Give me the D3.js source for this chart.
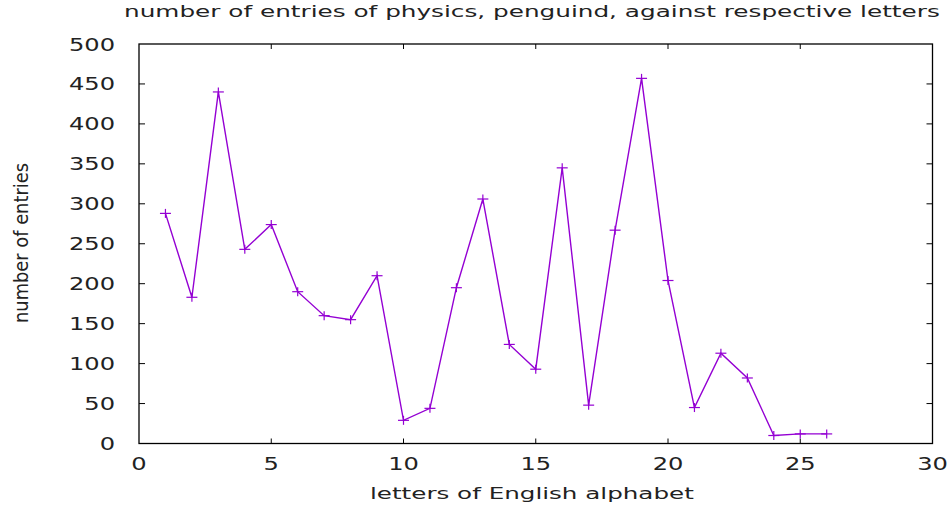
<!DOCTYPE html>
<html><head><meta charset="utf-8">
<script src="https://cdn.jsdelivr.net/npm/d3@7"></script>
<style>html,body{margin:0;padding:0;background:#fff;}svg{display:block;}</style>
</head><body>
<svg id="c" width="948" height="510"></svg>
<script>
const letterIndex = [1,2,3,4,5,6,7,8,9,10,11,12,13,14,15,16,17,18,19,20,21,22,23,24,25,26];
const entries = [288,183,440,243,274,190,160,155,210,29,44,195,306,124,93,345,48,267,457,204,45,113,82,10,12,12];
const xTicks = [0,5,10,15,20,25,30];
const yTicks = [0,50,100,150,200,250,300,350,400,450,500];
const titleText = "number of entries of physics, penguind, against respective letters";
const xLabelText = "letters of English alphabet";
const yLabelText = "number of entries";

const svg = d3.select("#c");
const L = 139, R = 932.5, T = 44, B = 443.5;
const x = d3.scaleLinear().domain([0,30]).range([L,R]);
const y = d3.scaleLinear().domain([0,500]).range([B,T]);
const FONT = "DejaVu Sans";
const SX = 1.38;
const color = "#9400d3";

function stretched(g, txt, px, py, fs, sx, anchor){
  return g.append("text").attr("transform",`translate(${px},${py}) scale(${sx},1)`)
    .attr("font-family",FONT).attr("font-size",fs).attr("fill","#222")
    .attr("text-anchor",anchor||"start").text(txt);
}
function fitted(txt, x0, x1, py, fs){
  const t = svg.append("text").attr("font-family",FONT).attr("font-size",fs).attr("fill","#222").text(txt);
  const w = t.node().getComputedTextLength();
  const sx = (x1-x0)/w;
  t.attr("transform",`translate(${x0},${py}) scale(${sx},1)`);
  return t;
}

// ticks (inward, mirrored)
const tk = svg.append("g").attr("stroke","#000").attr("stroke-width",1);
xTicks.forEach(v=>{
  if(v===0||v===30) return;
  tk.append("line").attr("x1",x(v)).attr("x2",x(v)).attr("y1",B).attr("y2",B-5);
  tk.append("line").attr("x1",x(v)).attr("x2",x(v)).attr("y1",T).attr("y2",T+5);
});
yTicks.forEach(v=>{
  if(v===0||v===500) return;
  tk.append("line").attr("x1",L).attr("x2",L+6).attr("y1",y(v)).attr("y2",y(v));
  tk.append("line").attr("x1",R).attr("x2",R-6).attr("y1",y(v)).attr("y2",y(v));
});
svg.append("rect").attr("x",L).attr("y",T).attr("width",R-L).attr("height",B-T)
  .attr("fill","none").attr("stroke","#000").attr("stroke-width",1.3);

// tick labels
const tl = svg.append("g");
yTicks.forEach(v=> stretched(tl, String(v), 115, y(v)+6.5, 17.5, SX, "end"));
xTicks.forEach(v=> stretched(tl, String(v), x(v), 470, 17.5, SX, "middle"));

// title & x label
fitted(titleText, 124, 940, 17, 15);
fitted(xLabelText, 370, 694, 499, 16.5);

// y label
{
  const t = svg.append("text").attr("font-family",FONT).attr("font-size",14).attr("fill","#222").text(yLabelText);
  const w = t.node().getComputedTextLength();
  const fs = 14*160/w;
  t.attr("font-size",fs).attr("text-anchor","middle");
  const sx = 15/(0.76*fs);
  t.attr("transform",`translate(28,243) scale(${sx},1) rotate(-90)`);
}

// line + points
const pts = letterIndex.map((v,i)=>[x(v), y(entries[i])]);
svg.append("path").attr("d", d3.line()(pts)).attr("fill","none").attr("stroke",color).attr("stroke-width",1.4);
const mk = svg.append("g").attr("stroke",color).attr("stroke-width",1.2);
letterIndex.forEach((v,i)=>{
  const cx = x(v), cy = y(entries[i]);
  mk.append("line").attr("x1",cx-5.5).attr("x2",cx+5.5).attr("y1",cy).attr("y2",cy);
  mk.append("line").attr("x1",cx).attr("x2",cx).attr("y1",cy-4.5).attr("y2",cy+4.5);
});
</script>
</body></html>
